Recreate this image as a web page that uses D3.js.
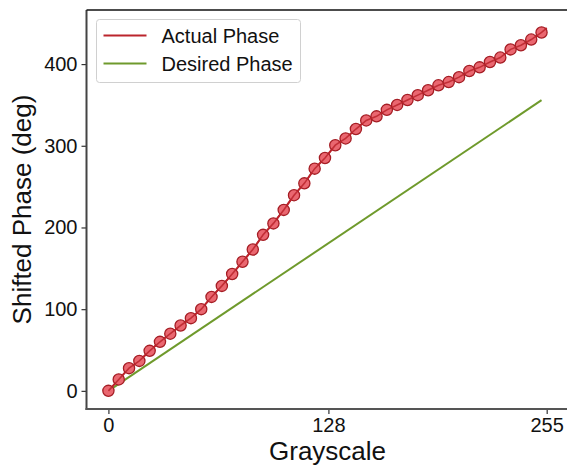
<!DOCTYPE html>
<html>
<head>
<meta charset="utf-8">
<script src="https://cdn.jsdelivr.net/npm/d3@7"></script>
<style>
  html, body { margin: 0; padding: 0; background: #fff; }
  svg { display: block; font-family: "Liberation Sans", Arial, sans-serif; }
</style>
</head>
<body>
<svg id="chart" width="567" height="471"></svg>
<script>
// ---- data ----
const grayscale = [0, 6, 12, 18, 24, 30, 36, 42, 48, 54, 60, 66, 72, 78, 84, 90, 96, 102, 108, 114,
  120, 126, 132, 138, 144, 150, 156, 162, 168, 174, 180, 186, 192, 198, 204, 210, 216, 222, 228,
  234, 240, 246, 252];
const actualPhase = [0, 14, 27.8, 36.7, 49, 60, 70, 80, 89, 100, 115, 128.5, 143, 158, 173, 191,
  205, 221.5, 239.5, 254, 272, 285, 300.7, 309, 320.5, 331, 336, 344, 350, 356, 362, 368, 374, 378,
  384, 391.5, 396, 402.5, 408, 418, 423, 430, 438.7];
const actualLineEndX = [255];
const actualLineEndY = [444];
const desiredX = [0, 252];
const desiredY = [0, 355.8];
const xTicks = [0, 128, 255];
const yTicks = [0, 100, 200, 300, 400];
const seriesNames = ["Actual Phase", "Desired Phase"];
const xLabel = "Grayscale";
const yLabel = "Shifted Phase (deg)";

(function () {
// ---- layout ----
const svg = d3.select("#chart");
const mLeft = 86.5, mRight = 568.6, mTop = 10, mBottom = 409;
const x = d3.scaleLinear().domain([-12.75, 267.75]).range([mLeft, mRight]);
const y = d3.scaleLinear().domain([-22.2, 466.2]).range([mBottom, mTop]);

const redLine = "#bb252c", redFill = "#ea6770", redEdge = "#a51e25", green = "#6f9a2c";

svg.append("defs").append("clipPath").attr("id", "clip")
  .append("rect").attr("x", mLeft).attr("y", mTop).attr("width", mRight - mLeft).attr("height", mBottom - mTop);

const plot = svg.append("g").attr("clip-path", "url(#clip)");

const actualPts = grayscale.map((g, i) => [g, actualPhase[i]])
  .concat(actualLineEndX.map((g, i) => [g, actualLineEndY[i]]));
const line = d3.line().x(d => x(d[0])).y(d => y(d[1]));

// desired line
const desiredPts = desiredX.map((g, i) => [g, desiredY[i]]);
plot.append("path").datum(desiredPts)
  .attr("d", line).attr("fill", "none").attr("stroke", green).attr("stroke-width", 2);

// actual line
plot.append("path").datum(actualPts)
  .attr("d", line).attr("fill", "none").attr("stroke", redLine).attr("stroke-width", 2);

// markers
plot.selectAll("circle.m").data(grayscale.map((g, i) => [g, actualPhase[i]]))
  .enter().append("circle").attr("class", "m")
  .attr("cx", d => x(d[0])).attr("cy", d => y(d[1])).attr("r", 5.6)
  .attr("fill", redFill).attr("stroke", redEdge).attr("stroke-width", 1.3);
plot.append("path").datum(actualPts)
  .attr("d", line).attr("fill", "none").attr("stroke", redLine).attr("stroke-width", 1.6).attr("opacity", 0.85);

// axes
const xAxis = d3.axisBottom(x).tickValues(xTicks).tickSize(5).tickPadding(4).tickFormat(d3.format("d"));
const yAxis = d3.axisLeft(y).tickValues(yTicks).tickSize(5).tickPadding(4).tickFormat(d3.format("d"));

const gx = svg.append("g").attr("transform", `translate(0,${mBottom})`).call(xAxis);
const gy = svg.append("g").attr("transform", `translate(${mLeft},0)`).call(yAxis);
[gx, gy].forEach(g => {
  g.select(".domain").remove();
  g.selectAll(".tick line").attr("stroke", "#333").attr("stroke-width", 1.2);
  g.selectAll(".tick text").attr("font-size", 20).attr("fill", "#111")
    .attr("font-family", "'Liberation Sans', Arial, sans-serif");
});

// spines
svg.append("line").attr("x1", mLeft).attr("x2", mLeft).attr("y1", mTop).attr("y2", mBottom + 1)
  .attr("stroke", "#444").attr("stroke-width", 2);
svg.append("line").attr("x1", mLeft - 1).attr("x2", mRight).attr("y1", mBottom).attr("y2", mBottom)
  .attr("stroke", "#555").attr("stroke-width", 2);
svg.append("line").attr("x1", mLeft).attr("x2", mRight).attr("y1", mTop).attr("y2", mTop)
  .attr("stroke", "#111").attr("stroke-width", 1.3);

// axis labels
svg.append("text").attr("x", (mLeft + mRight) / 2).attr("y", 460)
  .attr("text-anchor", "middle").attr("font-size", 26).attr("fill", "#111").text(xLabel);
svg.append("text").attr("transform", `translate(31,${(mTop + mBottom) / 2}) rotate(-90)`)
  .attr("text-anchor", "middle").attr("font-size", 26).attr("fill", "#111").text(yLabel);

// legend
const lg = svg.append("g");
lg.append("rect").attr("x", 96.5).attr("y", 19.5).attr("width", 204).attr("height", 63)
  .attr("rx", 3).attr("fill", "#fff").attr("fill-opacity", 0.8)
  .attr("stroke", "#d0d0d0").attr("stroke-width", 1);
const legendColors = [redLine, green];
seriesNames.forEach((name, i) => {
  const cy = 35.5 + i * 28;
  lg.append("line").attr("x1", 103.5).attr("x2", 146.5).attr("y1", cy).attr("y2", cy)
    .attr("stroke", legendColors[i]).attr("stroke-width", 2);
  lg.append("text").attr("x", 161.5).attr("y", cy + 7).attr("font-size", 20).attr("fill", "#111").text(name);
});
})();
</script>
</body>
</html>
